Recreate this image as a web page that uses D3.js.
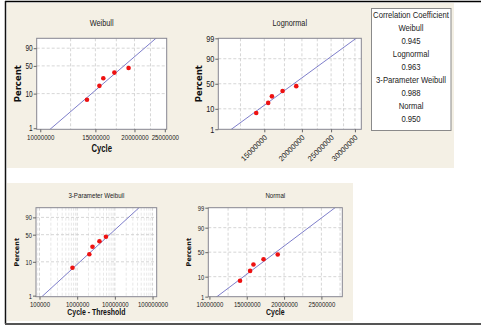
<!DOCTYPE html>
<html>
<head>
<meta charset="utf-8">
<script src="https://cdn.jsdelivr.net/npm/d3@7"></script>
<style>
  body { margin: 0; background: #fff; }
  svg { display: block; }
</style>
</head>
<body>
<div id="chart"></div>
<script>
// Data
var cycles = [14100000, 15450000, 15900000, 17250000, 19150000];
var percents = [6.73, 16.35, 25.96, 35.58, 45.19];
var threshold = 13350000;

var corrNames = ["Weibull", "Lognormal", "3-Parameter Weibull", "Normal"];
var corrValues = ["0.945", "0.963", "0.988", "0.950"];

// fitted lines
var weibullFit = {shape: 7.93, scale: 19370000};
var lognormalFit = {location: 16.749, scale: 0.2051};
var weibull3Fit = {shape: 1.04, scale: 10300000};
var normalFit = {mean: 18920000, sd: 3400000};

// tick labels
var pctTicksW = [1, 10, 50, 90];
var pctTicksN = [1, 10, 50, 90, 99];
var pctGrid = [10, 50, 90];
var cycleTicks = [10000000, 15000000, 20000000, 25000000];
var cycleGrid = [12500000, 15000000, 17500000, 20000000, 22500000, 25000000, 27500000];
var lognormTicks = [15000000, 20000000, 25000000, 30000000];
var lognormGrid = [12500000, 15000000, 17500000, 20000000, 22500000, 25000000, 27500000, 30000000];
var decadeTicks = [100000, 1000000, 10000000, 100000000];

var svgWidth = 481, svgHeight = 325;
var sans = "'Liberation Sans', Arial, sans-serif";
var heavy = "'DejaVu Sans', Verdana, sans-serif";
var squeeze = 0.77;   // the original is horizontally compressed

var svg = d3.select("#chart").append("svg")
  .attr("width", svgWidth)
  .attr("height", svgHeight);

// narrow a text horizontally around its own anchor
function squish(sel, k) {
  sel.each(function() {
    var t = d3.select(this);
    var x = +t.attr("x") || 0, y = +t.attr("y") || 0;
    var prev = t.attr("transform") || "";
    t.attr("x", null).attr("y", null)
      .attr("transform", prev + " translate(" + x + "," + y + ") scale(" + k + ",1)");
  });
}

// inverse normal cdf (Acklam)
function qnorm(p) {
  var a = [-3.969683028665376e+01, 2.209460984245205e+02, -2.759285104469687e+02, 1.383577518672690e+02, -3.066479806614716e+01, 2.506628277459239e+00];
  var b = [-5.447609879822406e+01, 1.615858368580409e+02, -1.556989798598866e+02, 6.680131188771972e+01, -1.328068155288572e+01];
  var c = [-7.784894002430293e-03, -3.223964580411365e-01, -2.400758277161838e+00, -2.549732539343734e+00, 4.374664141464968e+00, 2.938163982698783e+00];
  var d = [7.784695709041462e-03, 3.224671290700398e-01, 2.445134137142996e+00, 3.754408661907416e+00];
  var q, r;
  if (p < 0.02425) {
    q = Math.sqrt(-2 * Math.log(p));
    return (((((c[0]*q+c[1])*q+c[2])*q+c[3])*q+c[4])*q+c[5]) / ((((d[0]*q+d[1])*q+d[2])*q+d[3])*q+1);
  }
  if (p > 1 - 0.02425) {
    q = Math.sqrt(-2 * Math.log(1 - p));
    return -(((((c[0]*q+c[1])*q+c[2])*q+c[3])*q+c[4])*q+c[5]) / ((((d[0]*q+d[1])*q+d[2])*q+d[3])*q+1);
  }
  q = p - 0.5; r = q * q;
  return (((((a[0]*r+a[1])*r+a[2])*r+a[3])*r+a[4])*r+a[5])*q / (((((b[0]*r+b[1])*r+b[2])*r+b[3])*r+b[4])*r+1);
}
function weib(p) { return Math.log(-Math.log(1 - p)); }

// background panels and outer frame
svg.append("rect").attr("x", 7).attr("y", 3).attr("width", 447).attr("height", 165).attr("fill", "#f4f0e5");
svg.append("rect").attr("x", 7).attr("y", 183).attr("width", 346).attr("height", 138).attr("fill", "#f4f0e5");

// page title, mostly cut off by the top edge as in the source
svg.append("clipPath").attr("id", "topclip").append("rect")
  .attr("x", 7).attr("y", 3).attr("width", 447).attr("height", 20);
svg.append("text")
  .attr("clip-path", "url(#topclip)")
  .attr("x", 247).attr("y", 3)
  .attr("text-anchor", "end")
  .attr("font-family", sans).attr("font-size", 11).attr("fill", "#222")
  .text("Probability")
  .call(squish, squeeze);

svg.append("line").attr("x1", 5).attr("x2", 481).attr("y1", 1.5).attr("y2", 1.5).attr("stroke", "#000").attr("stroke-width", 1.5);
svg.append("line").attr("x1", 5.5).attr("x2", 5.5).attr("y1", 1).attr("y2", 324).attr("stroke", "#111").attr("stroke-width", 1.5);
svg.append("line").attr("x1", 5).attr("x2", 481).attr("y1", 324).attr("y2", 324).attr("stroke", "#555").attr("stroke-width", 2);

function drawPlot(o) {
  var w = o.x1 - o.x0, h = o.y1 - o.y0;
  var x = o.xScale.range([o.x0, o.x1]);
  var y = d3.scaleLinear().domain([o.tf(o.pLo), o.tf(o.pHi)]).range([o.y1, o.y0]);
  var g = svg.append("g");
  var clipId = "clip-" + o.id;

  svg.append("clipPath").attr("id", clipId).append("rect")
    .attr("x", o.x0).attr("y", o.y0).attr("width", w).attr("height", h);

  g.append("rect").attr("x", o.x0).attr("y", o.y0).attr("width", w).attr("height", h).attr("fill", "#fff");

  // grid
  g.selectAll(".gx").data(o.xGrid).enter().append("line")
    .attr("x1", d => x(d)).attr("x2", d => x(d))
    .attr("y1", o.y0).attr("y2", o.y1)
    .attr("stroke", d => o.minor && o.minor.indexOf(d) >= 0 ? "#e2e2e2" : "#cccccc")
    .attr("stroke-width", 0.8)
    .attr("stroke-dasharray", "3,2");
  g.selectAll(".gy").data(pctGrid).enter().append("line")
    .attr("x1", o.x0).attr("x2", o.x1)
    .attr("y1", d => y(o.tf(d / 100))).attr("y2", d => y(o.tf(d / 100)))
    .attr("stroke", "#cccccc").attr("stroke-width", 0.8)
    .attr("stroke-dasharray", "3,2");

  // fitted line
  var ends = [o.pLo * 0.5, 1 - (1 - o.pHi) * 0.5];
  g.append("line")
    .attr("clip-path", "url(#" + clipId + ")")
    .attr("x1", x(o.fit(ends[0]))).attr("y1", y(o.tf(ends[0])))
    .attr("x2", x(o.fit(ends[1]))).attr("y2", y(o.tf(ends[1])))
    .attr("stroke", "#6f6fc4").attr("stroke-width", 0.9);

  // points
  g.selectAll(".pt").data(o.xs).enter().append("circle")
    .attr("cx", d => x(d))
    .attr("cy", (d, i) => y(o.tf(percents[i] / 100)))
    .attr("r", 2.3)
    .attr("fill", "#ee1111");

  g.append("rect").attr("x", o.x0).attr("y", o.y0).attr("width", w).attr("height", h)
    .attr("fill", "none").attr("stroke", "#858590").attr("stroke-width", 1);

  // x axis
  var xa = g.append("g")
    .attr("transform", "translate(0," + o.y1 + ")")
    .call(d3.axisBottom(x).tickValues(o.xTicks).tickFormat(d3.format("d")).tickSize(3).tickPadding(2));
  xa.select(".domain").remove();
  xa.attr("font-family", sans).attr("font-size", o.xFont);
  xa.selectAll("line").attr("stroke", "#666");
  xa.selectAll("text").attr("fill", "#1a1a1a");
  if (o.rotate) {
    xa.selectAll("text")
      .attr("x", 0).attr("y", 0).attr("dy", "0.35em")
      .attr("text-anchor", "end")
      .attr("transform", "translate(1,7) rotate(-45)");
  } else {
    xa.selectAll("text").call(squish, squeeze);
  }

  // y axis
  var ya = g.append("g")
    .attr("transform", "translate(" + o.x0 + ",0)")
    .call(d3.axisLeft(y).tickValues(o.yTicks.map(p => o.tf(p / 100)))
      .tickFormat((d, i) => o.yTicks[i]).tickSize(3).tickPadding(1));
  ya.select(".domain").remove();
  ya.attr("font-family", sans).attr("font-size", o.yFont);
  ya.selectAll("line").attr("stroke", "#666");
  ya.selectAll("text").attr("fill", "#1a1a1a").call(squish, squeeze);

  // titles
  g.append("text")
    .attr("x", (o.x0 + o.x1) / 2).attr("y", o.titleY)
    .attr("text-anchor", "middle")
    .attr("font-family", sans).attr("font-size", o.titleFont).attr("fill", "#222")
    .text(o.title)
    .call(squish, squeeze);
  if (o.xTitle) {
    g.append("text")
      .attr("x", (o.x0 + o.x1) / 2).attr("y", o.xTitleY)
      .attr("text-anchor", "middle")
      .attr("font-family", sans).attr("font-weight", "bold")
      .attr("font-size", o.xTitleFont).attr("fill", "#111")
      .text(o.xTitle)
      .call(squish, squeeze);
  }
  g.append("text")
    .attr("transform", "translate(" + o.percentX + "," + (o.y0 + o.y1) / 2 + ") rotate(-90)")
    .attr("dy", "0.35em")
    .attr("text-anchor", "middle")
    .attr("font-family", heavy).attr("font-weight", "bold")
    .attr("font-size", o.percentFont).attr("fill", "#111")
    .text("Percent");
}

var minorDecades = [];
decadeTicks.forEach(function(t) {
  for (var k = 2; k < 10; k++) minorDecades.push(t * k / 10);
});

drawPlot({
  id: "weibull", title: "Weibull", xTitle: "Cycle",
  x0: 36.7, x1: 166.7, y0: 38.3, y1: 129.3,
  xScale: d3.scaleLog().domain([9740000, 25350000]),
  tf: weib, pLo: 0.0093, pHi: 0.989,
  fit: p => weibullFit.scale * Math.pow(-Math.log(1 - p), 1 / weibullFit.shape),
  xs: cycles, xTicks: cycleTicks, xGrid: cycleGrid.filter(d => d < 25000000), yTicks: pctTicksW,
  xFont: 8, yFont: 8.5, titleFont: 9.5, titleY: 26, xTitleY: 151.5, xTitleFont: 10,
  percentX: 18.5, percentFont: 8.5
});

drawPlot({
  id: "lognormal", title: "Lognormal", rotate: true,
  x0: 218.3, x1: 361.3, y0: 38.3, y1: 129.3,
  xScale: d3.scaleLog().domain([10550000, 31500000]),
  tf: qnorm, pLo: 0.0099, pHi: 0.99,
  fit: p => Math.exp(lognormalFit.location + lognormalFit.scale * qnorm(p)),
  xs: cycles, xTicks: lognormTicks, xGrid: lognormGrid, yTicks: pctTicksN,
  xFont: 7.5, yFont: 9.5, titleFont: 9.5, titleY: 26,
  percentX: 199.5, percentFont: 8.5
});

drawPlot({
  id: "weibull3", title: "3-Parameter Weibull", xTitle: "Cycle - Threshold",
  x0: 36, x1: 156.7, y0: 207.7, y1: 296.7,
  xScale: d3.scaleLog().domain([80700, 129000000]),
  tf: weib, pLo: 0.0093, pHi: 0.989,
  fit: p => weibull3Fit.scale * Math.pow(-Math.log(1 - p), 1 / weibull3Fit.shape),
  xs: cycles.map(d => d - threshold), xTicks: decadeTicks,
  xGrid: decadeTicks.concat(minorDecades).filter(d => d > 80700 && d < 129000000),
  minor: minorDecades, yTicks: pctTicksW,
  xFont: 7.8, yFont: 7.5, titleFont: 8, titleY: 198, xTitleY: 315, xTitleFont: 9,
  percentX: 17, percentFont: 6.5
});

drawPlot({
  id: "normal", title: "Normal", xTitle: "Cycle",
  x0: 208.3, x1: 342.3, y0: 207.7, y1: 296.7,
  xScale: d3.scaleLinear().domain([9850000, 27800000]),
  tf: qnorm, pLo: 0.0099, pHi: 0.99,
  fit: p => normalFit.mean + normalFit.sd * qnorm(p),
  xs: cycles, xTicks: cycleTicks, xGrid: cycleGrid, yTicks: pctTicksN,
  xFont: 7.8, yFont: 7.5, titleFont: 8, titleY: 198, xTitleY: 315, xTitleFont: 9,
  percentX: 188.5, percentFont: 6.5
});

// correlation coefficient box
var legend = svg.append("g");
legend.append("rect")
  .attr("x", 371.5).attr("y", 8.5).attr("width", 79.5).attr("height", 122)
  .attr("fill", "#fff").attr("stroke", "#8a8a8a");
var legendLines = ["Correlation Coefficient"];
corrNames.forEach(function(n, i) { legendLines.push(n, corrValues[i]); });
legend.selectAll("text").data(legendLines).enter().append("text")
  .attr("x", 411)
  .attr("y", (d, i) => 18.3 + i * 12.95)
  .attr("text-anchor", "middle")
  .attr("font-family", sans).attr("font-size", 9.5).attr("fill", "#222")
  .text(d => d)
  .call(squish, 0.81);
</script>
</body>
</html>
